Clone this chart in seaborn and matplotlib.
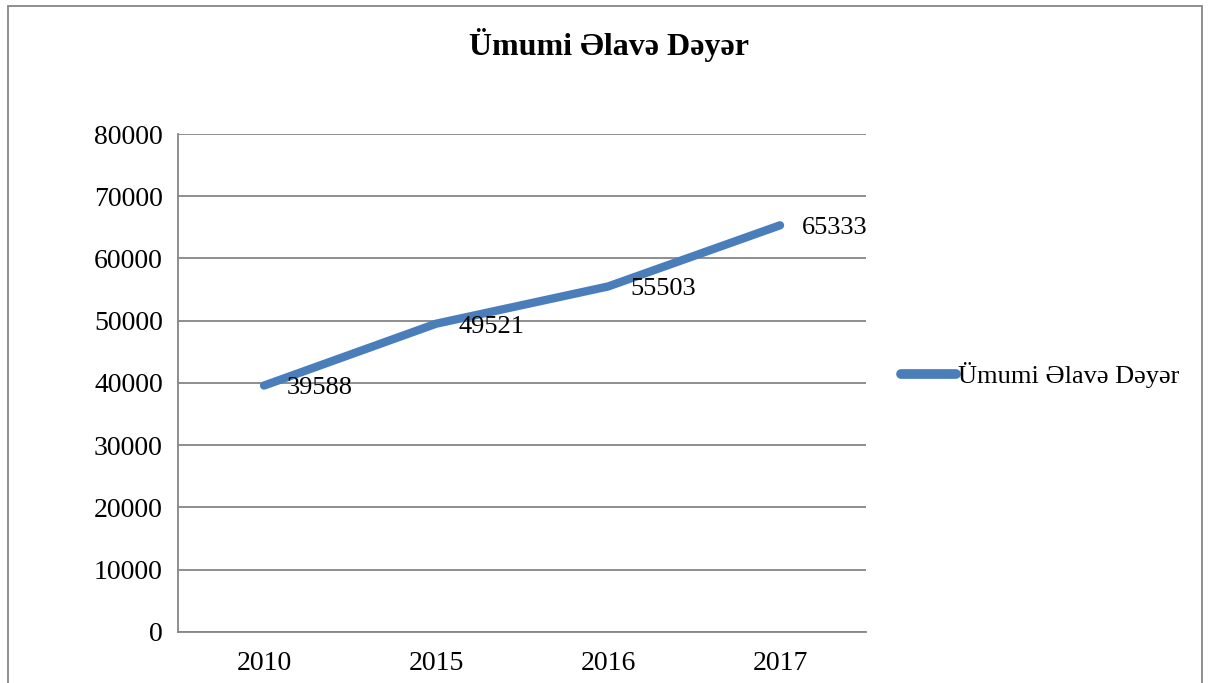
import pandas as pd
import seaborn as sns
import matplotlib.pyplot as plt
from matplotlib.patches import Rectangle

years = ["2010", "2015", "2016", "2017"]
values = [39588, 49521, 55503, 65333]
series_name = "Ümumi Əlavə Dəyər"

df = pd.DataFrame({"Il": years, "Deger": values})

sns.set_style("white")
plt.rcParams["font.family"] = ["Liberation Serif", "DejaVu Serif"]
plt.rcParams["text.color"] = "black"
plt.rcParams["xtick.color"] = "black"
plt.rcParams["ytick.color"] = "black"

fig = plt.figure(figsize=(12.08, 6.83), dpi=100)
ax = fig.add_axes([0.1474, 0.0747, 0.5695, 0.7291])

sns.lineplot(data=df, x="Il", y="Deger", ax=ax, color="#4A7EBB",
             linewidth=6, solid_capstyle="round", label=series_name)

for i, v in enumerate(values):
    ax.annotate(str(v), (i, v), xytext=(16, -2), textcoords="offset points",
                ha="left", va="center", fontsize=19, color="black")

ax.set_xlim(-0.5, 3.5)
ax.set_ylim(0, 80000)
ax.set_yticks(range(0, 80001, 10000))
ax.yaxis.grid(True, color="#868686", linewidth=1.3)
ax.set_axisbelow(True)
ax.set_xlabel("")
ax.set_ylabel("")
ax.tick_params(axis="both", labelsize=20, length=0, pad=14)
ax.tick_params(axis="y", pad=11)
for s in ["top", "right"]:
    ax.spines[s].set_visible(False)
for s in ["left", "bottom"]:
    ax.spines[s].set_color("#868686")
    ax.spines[s].set_linewidth(1.3)

leg = ax.legend(loc="center left", bbox_to_anchor=(0.735, 0.451),
                bbox_transform=fig.transFigure, frameon=False, fontsize=19,
                handlelength=2.1, handletextpad=0.05, borderpad=0)
for line in leg.get_lines():
    line.set_linewidth(7)

fig.text(0.504, 0.934, series_name, ha="center", va="center",
         fontsize=23, fontweight="bold", color="black")

# outer chart frame
fig.patches.append(Rectangle((8 / 1208, -0.05), (1202 - 8) / 1208, 0.05 + 1 - 6 / 683,
                             transform=fig.transFigure, fill=False,
                             edgecolor="#868686", linewidth=1.3))

fig.savefig("out.png", dpi=100)
